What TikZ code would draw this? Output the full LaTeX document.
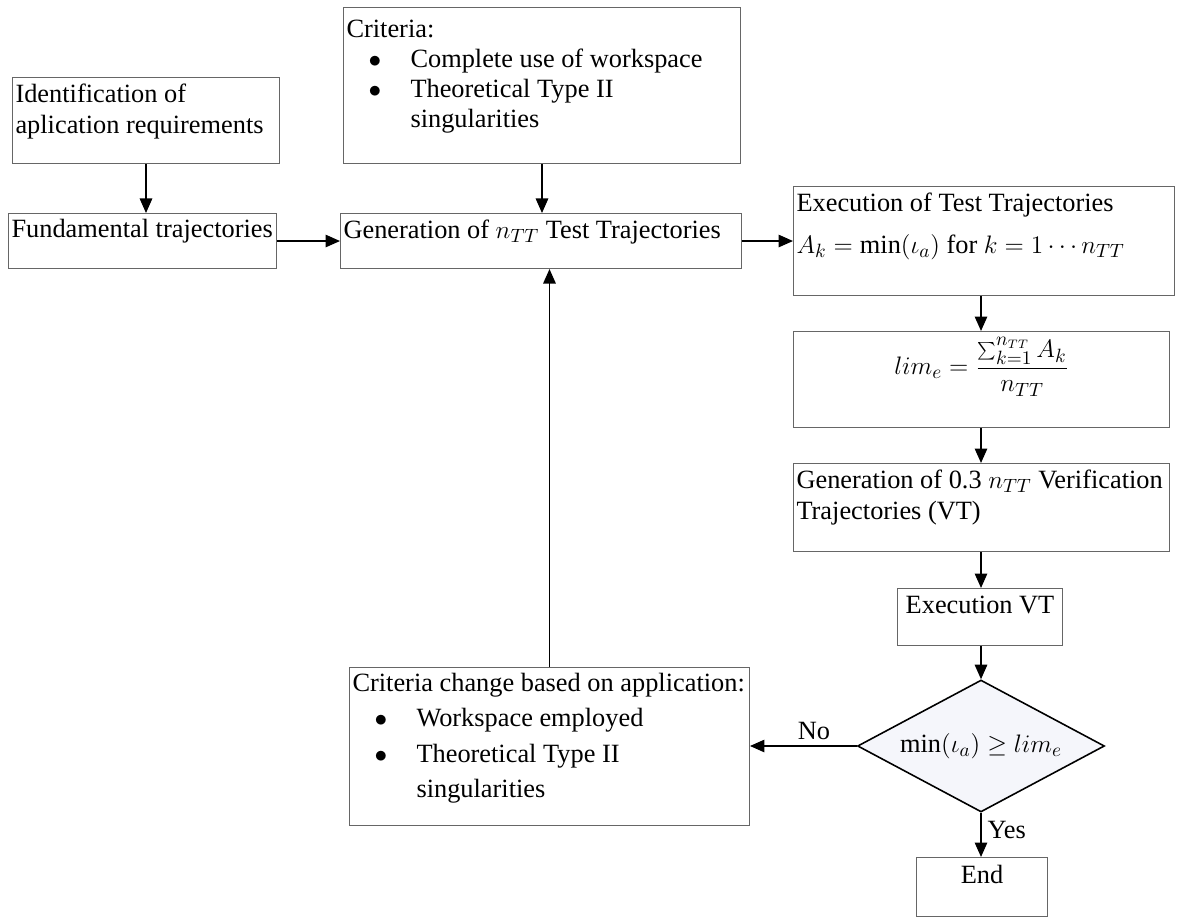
\documentclass[tikz,border=0pt]{standalone}
\usepackage{fontspec}
\setmainfont{Liberation Serif}
\usetikzlibrary{shapes.geometric,arrows.meta}

\definecolor{diafill}{RGB}{245,246,251}
\newcommand{\boxtext}[3]{\parbox[t][\dimexpr#2-0.24cm\relax][t]{\dimexpr#1-0.12cm\relax}{#3}}
\newcommand{\bitem}[1]{\hspace*{0.44cm}\makebox[0.84cm][l]{$\bullet$}#1}
\newcommand{\bcont}[1]{\hspace*{1.28cm}#1}

\tikzstyle{block}=[draw=black!60,line width=0.6pt,anchor=north west,inner xsep=0.06cm,inner ysep=0.12cm,font=\fontsize{15}{18}\selectfont]
\tikzstyle{decision}=[diamond,draw,line width=0.9pt,fill=diafill,aspect=1.9,minimum width=4.94cm,minimum height=2.64cm,inner sep=0pt,font=\fontsize{15}{18}\selectfont]
\tikzstyle{arrow}=[line width=0.8pt,-{Triangle[length=0.29cm,width=0.25cm]}]
\tikzstyle{lbl}=[font=\fontsize{15}{18}\selectfont]

\begin{document}
\begin{tikzpicture}[x=0.02cm,y=-0.02cm]
	\useasboundingbox (0,0) rectangle (1179,918);
	
	\node[block] (ident) at (12,77) {\boxtext{5.34cm}{1.72cm}{Identification of\\ aplication requirements}};
	\node[block] (crit) at (343,7) {\boxtext{7.94cm}{3.12cm}{\vspace*{0.14cm}Criteria:\\[-1pt] \bitem{Complete use of workspace}\\[-1pt] \bitem{Theoretical Type II}\\[-1pt] \bcont{singularities}}};
	\node[block] (fund) at (8,213) {\boxtext{5.36cm}{1.10cm}{Fundamental trajectories}};
	\node[block] (gen) at (340,213) {\boxtext{8.02cm}{1.10cm}{Generation of $n_{TT}$ Test Trajectories}};
	
	\node[block] (exec) at (793,186) {\boxtext{7.62cm}{2.18cm}{Execution of Test Trajectories\\[6pt] $A_k=\min(\iota_a)$ for $k=1\cdots n_{TT}$}};
	\node[block] (lim) at (793,331) {\boxtext{7.52cm}{1.92cm}{\centering $\displaystyle lim_e=\frac{\sum_{k=1}^{n_{TT}}A_k}{n_{TT}}$}};
	\node[block] (verif) at (793,463) {\boxtext{7.52cm}{1.76cm}{\mbox{Generation of 0.3 $n_{TT}$ Verification}\\ Trajectories (VT)}};
	\node[block] (execvt) at (897,588) {\boxtext{3.30cm}{1.14cm}{\centering\vspace*{0.04cm}Execution VT}};
	\node[decision] (dec) at (981,746) {$\min(\iota_a)\geq lim_e$};
	\node[block] (stop) at (916,857) {\boxtext{2.62cm}{1.18cm}{\centering\vspace*{0.04cm}End}};
	
	\node[block] (change) at (349,667) {\boxtext{8.00cm}{3.16cm}{Criteria change based on application:\\[2pt] \bitem{Workspace employed}\\[2pt] \bitem{Theoretical Type II}\\[2pt] \bcont{singularities}}};
	
	\draw[arrow] (ident.south) -- (ident.south |- fund.north);
	\draw[arrow] (crit.south) -- (crit.south |- gen.north);
	\draw[arrow] (fund.east) -- (gen.west);
	\draw[arrow] (gen.east) -- (gen.east -| exec.west);
	\draw[arrow] (exec.south -| dec) -- (lim.north -| dec);
	\draw[arrow] (lim.south -| dec) -- (verif.north -| dec);
	\draw[arrow] (verif.south -| dec) -- (execvt.north -| dec);
	\draw[arrow] (execvt.south -| dec) -- (dec.north);
	\draw[arrow] (dec.west) -- (dec.west -| change.east) node[lbl,above,pos=0.4] {No};
	\draw[arrow] (dec.south) -- (stop.north -| dec) node[lbl,right,pos=0.4] {Yes};
	\draw[arrow] (change.north) -- (change.north |- gen.south);
\end{tikzpicture}
\end{document}
